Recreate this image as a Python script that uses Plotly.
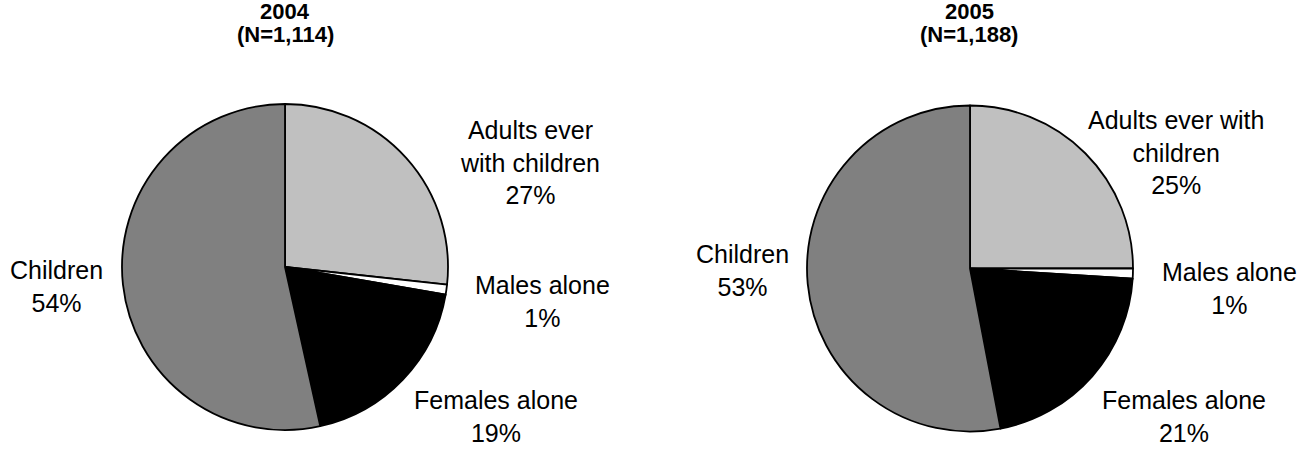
import plotly.graph_objects as go

W, H = 1314, 449

# Population shares by household type
categories = ["Adults ever with children", "Males alone", "Females alone", "Children"]
years = ["2004", "2005"]
counts = ["1,114", "1,188"]
share_2004 = [27, 1, 19, 54]
share_2005 = [25, 1, 21, 53]
label_text_2004 = ["Adults ever<br>with children", "Males alone", "Females alone", "Children"]
label_text_2005 = ["Adults ever with<br>children", "Males alone", "Females alone", "Children"]

slice_colors = ["#C0C0C0", "#FFFFFF", "#000000", "#808080"]
FONT = "Liberation Sans, Arial, sans-serif"


def px_x(x):
    return x / W


def px_y(y):
    return 1 - y / H


# pie geometry in pixels: (centre x, centre y, radius)
pie_geom = [(285, 267, 163), (970, 268.5, 163)]
# label block centres in pixels for each pie, in category order
label_pos = [
    [(530, 162), (542, 301), (496, 416), (56, 286)],
    [(1176, 152), (1229, 288), (1184, 416), (742, 270)],
]
# title lines: x centre, middle of year line, middle of count line
title_pos = [(285, 11, 35), (969, 11, 35)]

fig = go.Figure()
annotations = []
for i, (year, n, vals, names) in enumerate(
    [(years[0], counts[0], share_2004, label_text_2004),
     (years[1], counts[1], share_2005, label_text_2005)]
):
    cx, cy, r = pie_geom[i]
    fig.add_trace(go.Pie(
        labels=categories,
        values=vals,
        sort=False,
        direction="clockwise",
        rotation=0,
        textinfo="none",
        hoverinfo="label+value",
        marker=dict(colors=slice_colors, line=dict(color="#000000", width=1.8)),
        domain=dict(x=[px_x(cx - r), px_x(cx + r)], y=[px_y(cy + r), px_y(cy - r)]),
        showlegend=False,
    ))
    for name, v, (lx, ly) in zip(names, vals, label_pos[i]):
        annotations.append(dict(
            x=px_x(lx), y=px_y(ly), xref="paper", yref="paper",
            xanchor="center", yanchor="middle", showarrow=False,
            text=f"{name}<br>{v}%", align="center",
            font=dict(family=FONT, size=25, color="#000000"),
        ))
    tx, ty1, ty2 = title_pos[i]
    for txt, ty in ((f"<b>{year}</b>", ty1), (f"<b>(N={n})</b>", ty2)):
        annotations.append(dict(
            x=px_x(tx), y=px_y(ty), xref="paper", yref="paper",
            xanchor="center", yanchor="middle", showarrow=False,
            borderpad=0, text=txt, align="center",
            font=dict(family=FONT, size=22, color="#000000"),
        ))

fig.update_layout(
    width=W, height=H,
    margin=dict(l=0, r=0, t=0, b=0),
    paper_bgcolor="#FFFFFF",
    plot_bgcolor="#FFFFFF",
    annotations=annotations,
)

fig.write_html("out.html")
